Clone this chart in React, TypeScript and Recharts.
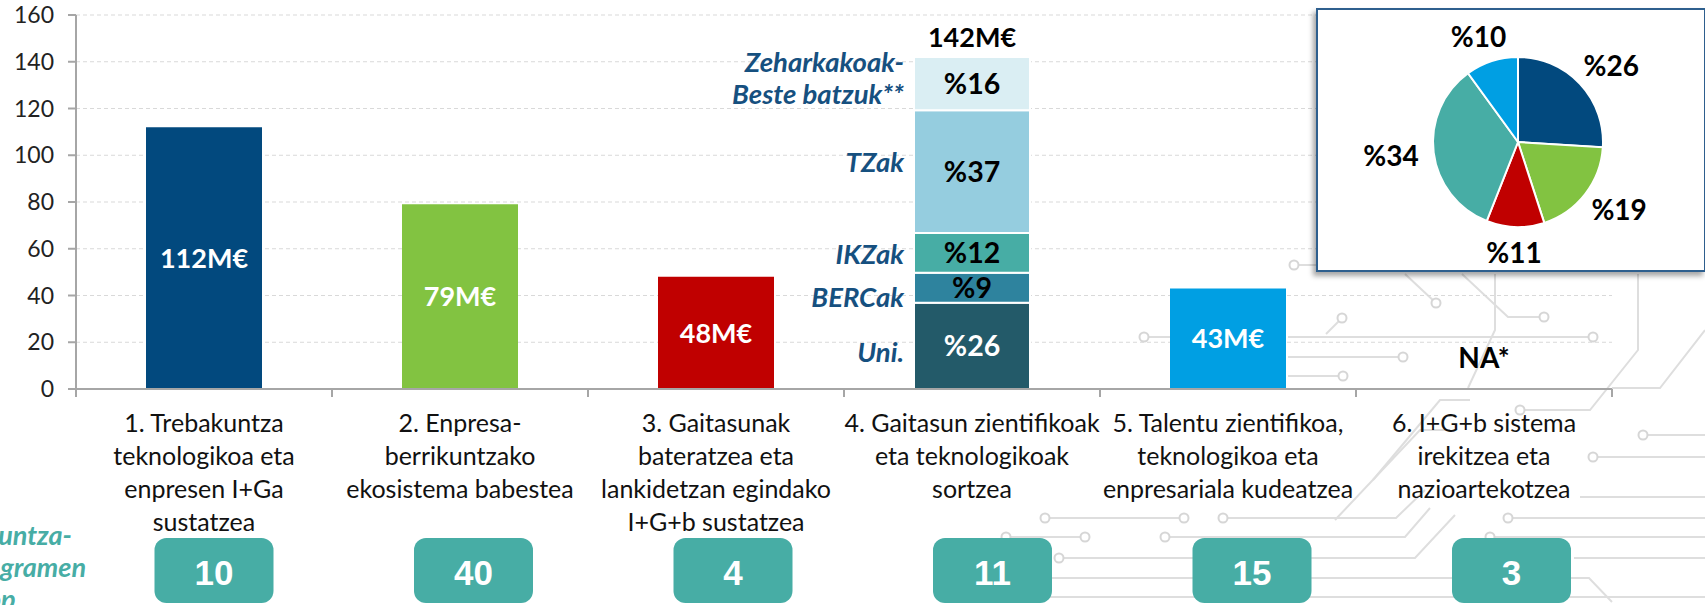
import React from "react";
import { BarChart, Bar, XAxis, YAxis, CartesianGrid, Cell, LabelList, PieChart, Pie } from "recharts";

// categories (strategic axes), labels split the way they wrap in the picture
const categories = ["1", "2", "3", "4", "5", "6"];
const categoryLines = [
  ["1. Trebakuntza", "teknologikoa eta", "enpresen I+Ga", "sustatzea"],
  ["2. Enpresa-", "berrikuntzako", "ekosistema babestea"],
  ["3. Gaitasunak", "bateratzea eta", "lankidetzan egindako", "I+G+b sustatzea"],
  ["4. Gaitasun zientifikoak", "eta teknologikoak", "sortzea"],
  ["5. Talentu zientifikoa,", "teknologikoa eta", "enpresariala kudeatzea"],
  ["6. I+G+b sistema", "irekitzea eta", "nazioartekotzea"],
];

// budget per axis, M€ (axis 4 is split below, axis 6 has no data)
const budgetMEur = [112, 79, 48, null, 43, null];

// axis 4 breakdown
const capacityTotal = 142;
const capacityShare = [26, 9, 12, 37, 16];
const capacityGroups = [["Uni."], ["BERCak"], ["IKZak"], ["TZak"], ["Zeharkakoak-", "Beste batzuk**"]];

// number of programmes per axis
const programCounts = [10, 40, 4, 11, 15, 3];

// pie: share of total budget per axis (clockwise from top)
const pieShares = [26, 19, 11, 34, 10];

const yTicks = [0, 20, 40, 60, 80, 100, 120, 140, 160];

const barColors = ["#02497e", "#82c341", "#c00000", "#235a69", "#009fe3", "#999"];
const segColors = ["#235a69", "#2e839e", "#47ada5", "#95cddf", "#daeef3"];
const segTextColors = ["#fff", "#000", "#000", "#000", "#000"];
const segNameDy = [6, 9, 1, -9, -6];
const pieColors = ["#02497e", "#82c341", "#c00000", "#47ada5", "#009fe3"];

const FONT = "Lato, 'Noto Sans', sans-serif";
const NAVY = "#16507f";
const TEAL = "#47ada5";
const AXIS = "#a6a6a6";

const PLOT_LEFT = 76;
const PLOT_RIGHT = 1612;
const BAND = (PLOT_RIGHT - PLOT_LEFT) / categories.length;

// decorative circuit-board traces in the background (lower right)
const traces: { pts: number[][]; dots: number[] }[] = [
  { pts: [[1144, 337], [1172, 337]], dots: [0] },
  { pts: [[1288, 337], [1593, 337]], dots: [1] },
  { pts: [[1342, 318], [1326, 334]], dots: [0] },
  { pts: [[1288, 357], [1403, 357]], dots: [1] },
  { pts: [[1288, 376], [1343, 376]], dots: [1] },
  { pts: [[1294, 265], [1316, 265]], dots: [0] },
  { pts: [[1436, 303], [1405, 274]], dots: [0] },
  { pts: [[1462, 274], [1508, 317], [1544, 317]], dots: [2] },
  { pts: [[1495, 274], [1495, 330], [1468, 388]], dots: [] },
  { pts: [[1638, 274], [1638, 350], [1590, 410], [1520, 410]], dots: [3] },
  { pts: [[1705, 330], [1660, 388], [1612, 388]], dots: [] },
  { pts: [[1373, 480], [1440, 400], [1470, 400]], dots: [] },
  { pts: [[1335, 520], [1420, 430], [1450, 430]], dots: [] },
  { pts: [[1643, 435], [1705, 435]], dots: [0] },
  { pts: [[1593, 457], [1705, 457]], dots: [0] },
  { pts: [[1580, 497], [1705, 497]], dots: [] },
  { pts: [[1045, 518], [1184, 518]], dots: [0, 1] },
  { pts: [[1223, 518], [1396, 518], [1425, 490]], dots: [0] },
  { pts: [[1508, 518], [1705, 518]], dots: [0] },
  { pts: [[1006, 537], [1085, 537]], dots: [0, 1] },
  { pts: [[1165, 537], [1405, 537], [1430, 508]], dots: [0] },
  { pts: [[1490, 537], [1705, 537]], dots: [0] },
  { pts: [[1059, 558], [1415, 558], [1455, 515]], dots: [0] },
  { pts: [[1574, 558], [1705, 558]], dots: [] },
  { pts: [[1000, 578], [1589, 578], [1612, 602]], dots: [] },
  { pts: [[1000, 597], [1705, 597]], dots: [] },
];

const segKeys = capacityShare.map((_, j) => "s" + j);

const rows = categories.map((name, i) => {
  const row: Record<string, any> = { name, main: budgetMEur[i] ?? 0 };
  segKeys.forEach((k, j) => {
    row[k] = i === 3 ? (capacityTotal * capacityShare[j]) / 100 : 0;
  });
  return row;
});

const pieData = pieShares.map((v, i) => ({ name: categories[i], value: v }));

function MainLabel(props: any) {
  const { x, y, width, height, value } = props;
  if (!value) return null;
  return (
    <text x={x + width / 2} y={y + height / 2} dy="0.36em" textAnchor="middle"
      fill="#fff" fontFamily={FONT} fontWeight={700} fontSize={27}>
      {value}M€
    </text>
  );
}

function SegLabel(props: any) {
  const { x, y, width, height, value, j } = props;
  if (!value) return null;
  const cy = y + height / 2;
  const names = capacityGroups[j];
  return (
    <g>
      <text x={x + width / 2} y={cy} dy="0.36em" textAnchor="middle"
        fill={segTextColors[j]} fontFamily={FONT} fontWeight={700} fontSize={28.5}>
        %{capacityShare[j]}
      </text>
      {names.map((n, k) => (
        <text key={k} x={x - 10} y={cy + segNameDy[j] + (k - (names.length - 1) / 2) * 32} dy="0.36em"
          textAnchor="end" fill={NAVY} fontFamily={FONT} fontWeight={700} fontStyle="italic" fontSize={27.5}>
          {n}
        </text>
      ))}
      {j === capacityShare.length - 1 && (
        <text x={x + width / 2} y={y - 20} dy="0.36em" textAnchor="middle"
          fill="#000" fontFamily={FONT} fontWeight={700} fontSize={27}>
          {capacityTotal}M€
        </text>
      )}
    </g>
  );
}

function CategoryTick(props: any) {
  const { x, y, index } = props;
  const lines = categoryLines[index];
  const boxX = x + 10 + index * 3.5;
  const left = x - BAND / 2;
  return (
    <g>
      <line x1={left} x2={left} y1={y} y2={y + 8} stroke={AXIS} strokeWidth={2} />
      {index === categories.length - 1 && (
        <line x1={x + BAND / 2} x2={x + BAND / 2} y1={y} y2={y + 8} stroke={AXIS} strokeWidth={2} />
      )}
      {budgetMEur[index] == null && index !== 3 && (
        <text x={x} y={y - 31} dy="0.36em" textAnchor="middle" fill="#000"
          fontFamily={FONT} fontWeight={700} fontSize={28}>NA*</text>
      )}
      {lines.map((l, k) => (
        <text key={k} x={x} y={y + 34 + k * 33} dy="0.36em" textAnchor="middle"
          fill="#111" fontFamily={FONT} fontSize={25}>
          {l}
        </text>
      ))}
      <rect x={boxX - 59.5} y={y + 149} width={119} height={65} rx={12} fill={TEAL} />
      <text x={boxX} y={y + 183} dy="0.36em" textAnchor="middle" fill="#fff"
        fontFamily="'Liberation Sans', Arial, sans-serif" fontWeight={700} fontSize={35}>
        {programCounts[index]}
      </text>
    </g>
  );
}

function PieLabel(props: any) {
  const { cx, cy, midAngle, outerRadius, value } = props;
  const a = (-midAngle * Math.PI) / 180;
  const dx = Math.cos(a);
  const dy = Math.sin(a);
  const r = outerRadius + 14;
  const lx = cx + r * dx + dx * 29;
  const ly = cy + r * dy + dy * 12;
  return (
    <text x={lx} y={ly} dy="0.36em" textAnchor="middle"
      fill="#000" fontFamily={FONT} fontWeight={700} fontSize={28}>
      %{value}
    </text>
  );
}

function Circuit() {
  return (
    <svg width={1705} height={605} style={{ position: "absolute", left: 0, top: 0 }}>
      {traces.map((t, i) => (
        <g key={i}>
          <polyline points={t.pts.map((p) => p.join(",")).join(" ")} fill="none" stroke="#dedede" strokeWidth={2} />
          {t.dots.map((d) => (
            <circle key={d} cx={t.pts[d][0]} cy={t.pts[d][1]} r={4.5} fill="#fff" stroke="#d6d6d6" strokeWidth={2} />
          ))}
        </g>
      ))}
    </svg>
  );
}

export default function App() {
  return (
    <div style={{ position: "absolute", left: 0, top: 0, width: 1705, height: 605, background: "#fff", overflow: "hidden" }}>
      <Circuit />
      <div style={{ position: "absolute", left: 0, top: 0 }}>
        <BarChart width={1705} height={605} data={rows}
          margin={{ top: 15, right: 1705 - PLOT_RIGHT, bottom: 1, left: PLOT_LEFT - 60 }}>
          <CartesianGrid vertical={false} stroke="#d9d9d9" strokeDasharray="4 3" />
          <YAxis domain={[0, 160]} ticks={yTicks} width={60} tickSize={8} tickMargin={14}
            axisLine={{ stroke: AXIS, strokeWidth: 2 }} tickLine={{ stroke: AXIS, strokeWidth: 2 }}
            tick={{ fill: "#222", fontSize: 23, fontFamily: FONT }} />
          <XAxis dataKey="name" height={215} interval={0} tickLine={false} tickSize={0} tickMargin={0}
            axisLine={{ stroke: AXIS, strokeWidth: 2 }} tick={<CategoryTick />} />
          <Bar dataKey="main" stackId="a" barSize={116} isAnimationActive={false}>
            {rows.map((_, i) => (
              <Cell key={i} fill={barColors[i]} />
            ))}
            <LabelList dataKey="main" content={MainLabel} />
          </Bar>
          {segKeys.map((k, j) => (
            <Bar key={k} dataKey={k} stackId="a" barSize={116} fill={segColors[j]} stroke="#fff" strokeWidth={2}
              isAnimationActive={false}>
              <LabelList dataKey={k} content={(p: any) => <SegLabel {...p} j={j} />} />
            </Bar>
          ))}
        </BarChart>
      </div>

      <svg width={120} height={110} style={{ position: "absolute", left: 0, top: 500 }}>
        {["Ikerkuntza-", "programen", "kop."].map((t, k) => (
          <text key={k} x={[72, 86, 22][k]} y={35 + k * 32} dy="0.36em" textAnchor="end" fill={TEAL}
            fontFamily={FONT} fontWeight={700} fontStyle="italic" fontSize={27}>
            {t}
          </text>
        ))}
      </svg>

      <div style={{
        position: "absolute", left: 1316, top: 8, width: 390, height: 264, boxSizing: "border-box",
        background: "#fff", border: "2px solid #2e5f8e", boxShadow: "-3px 4px 5px rgba(0,0,0,0.35)",
      }}>
        <PieChart width={386} height={260}>
          <Pie data={pieData} dataKey="value" cx={195} cy={127} outerRadius={85} startAngle={90} endAngle={-270}
            stroke="#fff" strokeWidth={2} labelLine={false} label={PieLabel} isAnimationActive={false}>
            {pieData.map((_, i) => (
              <Cell key={i} fill={pieColors[i]} />
            ))}
          </Pie>
        </PieChart>
      </div>
    </div>
  );
}
